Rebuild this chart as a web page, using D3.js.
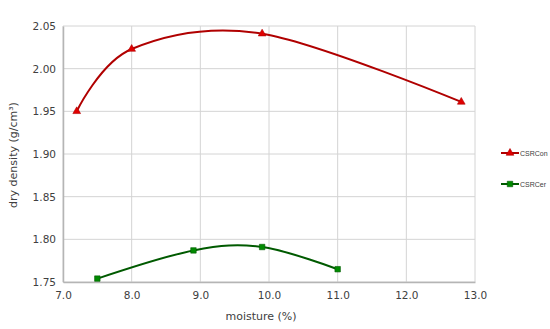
<!DOCTYPE html>
<html>
<head>
<meta charset="utf-8">
<script src="https://cdn.jsdelivr.net/npm/d3@7"></script>
<style>
  html, body { margin: 0; background: #fff; overflow: hidden; }
  svg { display: block; font-family: "DejaVu Sans", Verdana, sans-serif; }
</style>
</head>
<body>
<div id="chart-area"></div>
<script>
// values
var conMoisture = [7.2, 8.0, 9.9, 12.8];
var conDensity = [1.950, 2.023, 2.041, 1.961];
var cerMoisture = [7.5, 8.9, 9.9, 11.0];
var cerDensity = [1.754, 1.787, 1.791, 1.765];
var xTicks = [7.0, 8.0, 9.0, 10.0, 11.0, 12.0, 13.0];
var yTicks = [1.75, 1.80, 1.85, 1.90, 1.95, 2.00, 2.05];

var series = [
  { name: 'CSRCon', x: conMoisture, y: conDensity, line: '#b00000', fill: '#e00000', marker: 'triangle' },
  { name: 'CSRCer', x: cerMoisture, y: cerDensity, line: '#005a00', fill: '#008a00', marker: 'square' }
];

var svg = d3.select('#chart-area').append('svg')
  .attr('width', 550)
  .attr('height', 329);

var x = d3.scaleLinear().domain([7, 13]).range([63, 475]);
var y = d3.scaleLinear().domain([1.75, 2.05]).range([282, 26]);

// grid
svg.append('g').selectAll('line.h')
  .data(yTicks)
  .enter().append('line')
    .attr('x1', x(7)).attr('x2', x(13))
    .attr('y1', function(d) { return y(d); })
    .attr('y2', function(d) { return y(d); })
    .attr('stroke', '#d4d4d4').attr('stroke-width', 1);
svg.append('g').selectAll('line.v')
  .data(xTicks)
  .enter().append('line')
    .attr('y1', y(1.75)).attr('y2', y(2.05))
    .attr('x1', function(d) { return x(d); })
    .attr('x2', function(d) { return x(d); })
    .attr('stroke', '#d4d4d4').attr('stroke-width', 1);

// axes
var xAxis = d3.axisBottom(x).tickValues(xTicks).tickSize(0).tickPadding(10)
  .tickFormat(d3.format('.1f'));
var yAxis = d3.axisLeft(y).tickValues(yTicks).tickSize(0).tickPadding(7)
  .tickFormat(d3.format('.2f'));

var gx = svg.append('g').attr('transform', 'translate(0,' + y(1.75) + ')').call(xAxis);
var gy = svg.append('g').attr('transform', 'translate(' + x(7) + ',0)').call(yAxis);
[gx, gy].forEach(function(g) {
  g.select('.domain').attr('stroke', '#b5b5b5').attr('stroke-width', 1.5);
  g.selectAll('text').attr('font-size', 10.5).attr('fill', '#404040')
    .attr('font-family', '"DejaVu Sans", Verdana, sans-serif');
});

svg.append('text')
  .attr('x', 261).attr('y', 320)
  .attr('text-anchor', 'middle')
  .attr('font-size', 11).attr('fill', '#404040')
  .text('moisture (%)');

svg.append('text')
  .attr('transform', 'translate(17,155) rotate(-90)')
  .attr('text-anchor', 'middle')
  .attr('font-size', 11).attr('fill', '#404040')
  .text('dry density (g/cm³)');

var line = d3.line()
  .x(function(d) { return x(d[0]); })
  .y(function(d) { return y(d[1]); })
  .curve(d3.curveCardinal.tension(0));

var tri = d3.symbol().type(d3.symbolTriangle).size(26);
var sq = d3.symbol().type(d3.symbolSquare).size(30);

series.forEach(function(s) {
  var pts = s.x.map(function(v, i) { return [v, s.y[i]]; });
  svg.append('path')
    .attr('d', line(pts))
    .attr('fill', 'none')
    .attr('stroke', s.line)
    .attr('stroke-width', 2);
  svg.selectAll('.m-' + s.name)
    .data(pts)
    .enter().append('path')
      .attr('d', s.marker === 'triangle' ? tri : sq)
      .attr('transform', function(d) { return 'translate(' + x(d[0]) + ',' + y(d[1]) + ')'; })
      .attr('fill', s.fill)
      .attr('stroke', s.line)
      .attr('stroke-width', 0.6);
});

// legend
var legend = svg.append('g');
series.forEach(function(s, i) {
  var ly = 153 + i * 31;
  legend.append('line')
    .attr('x1', 501).attr('x2', 519)
    .attr('y1', ly).attr('y2', ly)
    .attr('stroke', s.line).attr('stroke-width', 2);
  legend.append('path')
    .attr('d', s.marker === 'triangle' ? tri : sq)
    .attr('transform', 'translate(510,' + ly + ')')
    .attr('fill', s.fill).attr('stroke', s.line).attr('stroke-width', 0.6);
  legend.append('text')
    .attr('x', 520).attr('y', ly + 3)
    .attr('font-size', 7).attr('fill', '#404040')
    .attr('font-family', '"Liberation Sans", sans-serif')
    .text(s.name);
});
</script>
</body>
</html>
